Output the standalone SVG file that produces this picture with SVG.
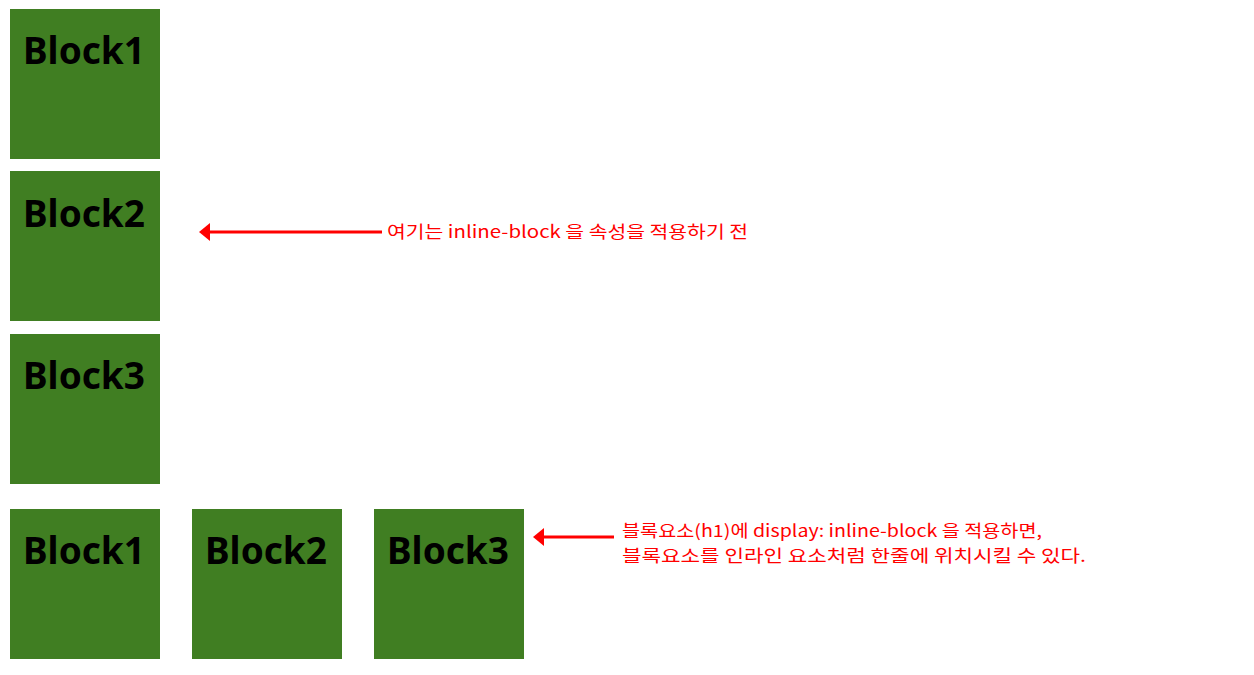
<svg xmlns="http://www.w3.org/2000/svg" width="1254" height="675" viewBox="0 0 1254 675">
<defs>
<style>
.box{fill:#407e22}
.lbl{font-family:"Noto Sans","Open Sans","DejaVu Sans",sans-serif;font-weight:bold;font-size:37px;fill:#000}
.note{font-family:"Noto Sans CJK KR","Noto Sans",sans-serif;font-size:17px;fill:#ff0000}
.arr{stroke:#ff0000;stroke-width:3;fill:none}
.head{fill:#ff0000}
</style>
</defs>
<rect width="1254" height="675" fill="#fff"/>
<g id="block1-top"><rect class="box" x="10" y="9" width="150" height="150"/><text class="lbl" x="23" y="64">Block1</text></g>
<g id="block2-top"><rect class="box" x="10" y="171" width="150" height="150"/><text class="lbl" x="23" y="227">Block2</text></g>
<g id="block3-top"><rect class="box" x="10" y="334" width="150" height="150"/><text class="lbl" x="23" y="389">Block3</text></g>
<g id="block1-inline"><rect class="box" x="10" y="509" width="150" height="150"/><text class="lbl" x="23" y="564">Block1</text></g>
<g id="block2-inline"><rect class="box" x="192" y="509" width="150" height="150"/><text class="lbl" x="205" y="564">Block2</text></g>
<g id="block3-inline"><rect class="box" x="374" y="509" width="150" height="150"/><text class="lbl" x="387" y="564">Block3</text></g>
<g id="connectors">
<line class="arr" x1="208" y1="232" x2="382" y2="232"/>
<polygon class="head" points="199,232 210,223 210,241"/>
<line class="arr" x1="542" y1="537" x2="614" y2="537"/>
<polygon class="head" points="533,537 544,528 544,546"/>
</g>
<g id="note-top"><text class="note" x="387" y="238" textLength="361" lengthAdjust="spacingAndGlyphs">여기는 inline-block 을 속성을 적용하기 전</text></g>
<g id="note-bottom">
<text class="note" x="622" y="537" textLength="420" lengthAdjust="spacingAndGlyphs">블록요소(h1)에 display: inline-block 을 적용하면,</text>
<text class="note" x="622" y="562" textLength="464" lengthAdjust="spacingAndGlyphs">블록요소를 인라인 요소처럼 한줄에 위치시킬 수 있다.</text>
</g>
</svg>
